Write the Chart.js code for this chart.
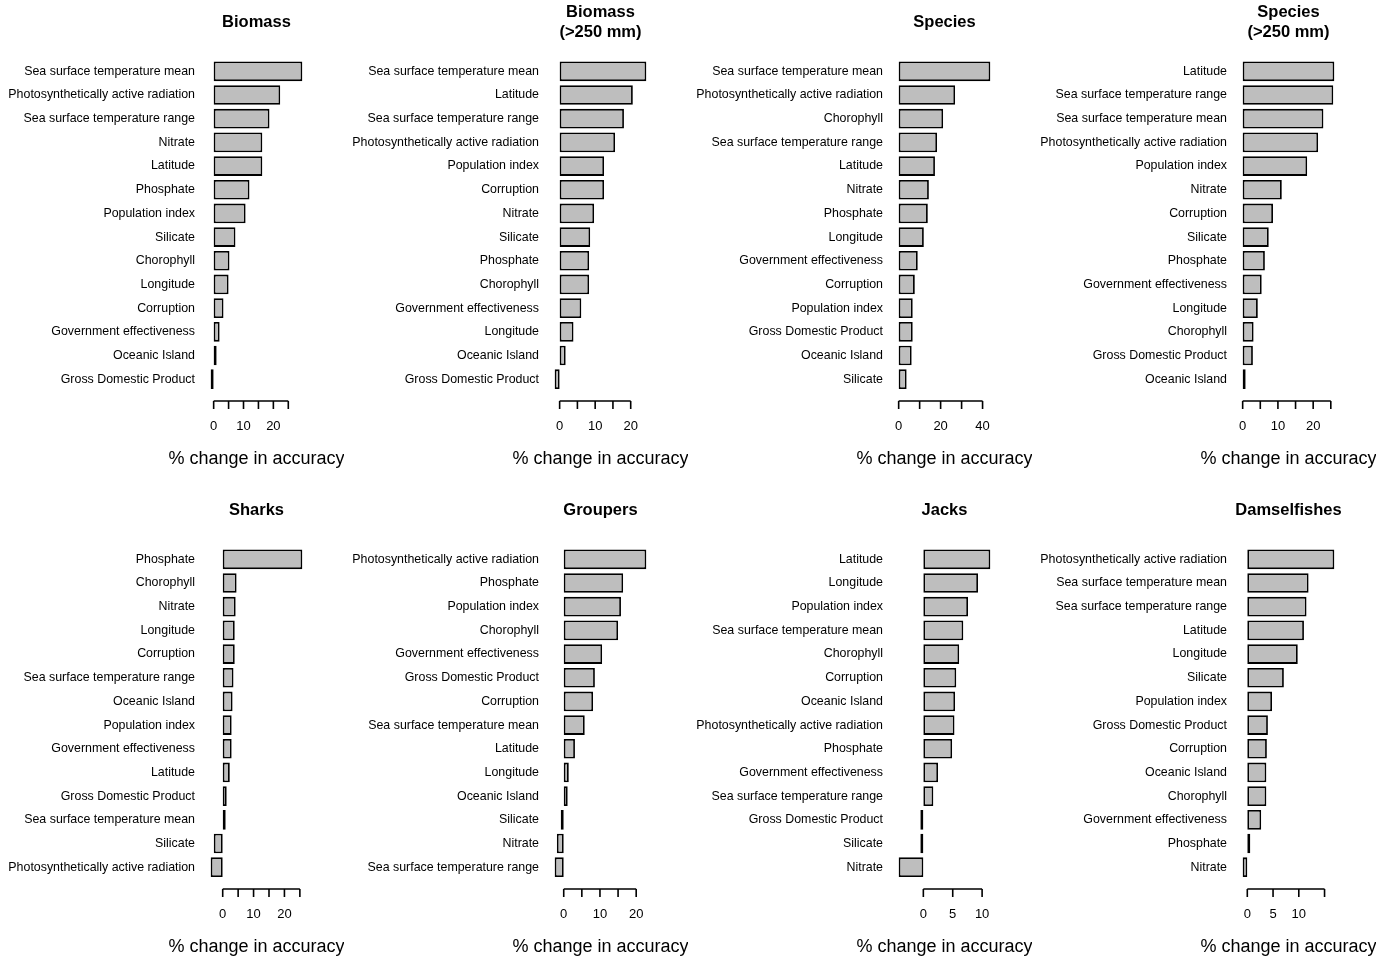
<!DOCTYPE html>
<html><head><meta charset="utf-8">
<script src="https://cdn.jsdelivr.net/npm/chart.js@4"></script>
<style>
body{margin:0;background:#fff;width:1395px;height:959px;position:relative;overflow:hidden}
.p{position:absolute;width:344px;height:488px}
canvas{width:344px;height:488px;display:block}
</style></head><body>
<script>
const titles = [["Biomass"],["Biomass","(>250 mm)"],["Species"],["Species","(>250 mm)"],["Sharks"],["Groupers"],["Jacks"],["Damselfishes"]];
const labels1 = ["Sea surface temperature mean","Photosynthetically active radiation","Sea surface temperature range","Nitrate","Latitude","Phosphate","Population index","Silicate","Chorophyll","Longitude","Corruption","Government effectiveness","Oceanic Island","Gross Domestic Product"];
const values1 = [29.7,22.3,18.7,16.3,16.3,12,10.7,7.3,5.3,5,3.3,2,0.4,-1];
const labels2 = ["Sea surface temperature mean","Latitude","Sea surface temperature range","Photosynthetically active radiation","Population index","Corruption","Nitrate","Silicate","Phosphate","Chorophyll","Government effectiveness","Longitude","Oceanic Island","Gross Domestic Product"];
const values2 = [24.4,20.6,18.1,15.6,12.5,12.5,9.7,8.6,8.3,8.3,6.1,3.9,1.7,-1.4];
const labels3 = ["Sea surface temperature mean","Photosynthetically active radiation","Chorophyll","Sea surface temperature range","Latitude","Nitrate","Phosphate","Longitude","Government effectiveness","Corruption","Population index","Gross Domestic Product","Oceanic Island","Silicate"];
const values3 = [43.7,26.9,21.2,18.3,17.3,14.4,13.9,12,9.1,7.7,6.7,6.7,6.2,3.8];
const labels4 = ["Latitude","Sea surface temperature range","Sea surface temperature mean","Photosynthetically active radiation","Population index","Nitrate","Corruption","Silicate","Phosphate","Government effectiveness","Longitude","Chorophyll","Gross Domestic Product","Oceanic Island"];
const values4 = [26,25.7,22.9,21.4,18.3,11.1,8.6,7.4,6.3,5.4,4.3,3.1,2.9,0.6];
const labels5 = ["Phosphate","Chorophyll","Nitrate","Longitude","Corruption","Sea surface temperature range","Oceanic Island","Population index","Government effectiveness","Latitude","Gross Domestic Product","Sea surface temperature mean","Silicate","Photosynthetically active radiation"];
const values5 = [25.8,4.5,4.2,3.9,3.9,3.5,3.2,2.9,2.9,2.3,1.3,0.3,-2.9,-3.9];
const labels6 = ["Photosynthetically active radiation","Phosphate","Population index","Chorophyll","Government effectiveness","Gross Domestic Product","Corruption","Sea surface temperature mean","Latitude","Longitude","Oceanic Island","Silicate","Nitrate","Sea surface temperature range"];
const values6 = [22.8,16.4,15.8,15,10.6,8.6,8.1,5.8,3.1,1.4,1.1,-0.3,-1.9,-2.5];
const labels7 = ["Latitude","Longitude","Population index","Sea surface temperature mean","Chorophyll","Corruption","Oceanic Island","Photosynthetically active radiation","Phosphate","Government effectiveness","Sea surface temperature range","Gross Domestic Product","Silicate","Nitrate"];
const values7 = [11.4,9.3,7.6,6.8,6.1,5.6,5.4,5.3,4.9,2.5,1.7,-0.3,-0.3,-4.2];
const labels8 = ["Photosynthetically active radiation","Sea surface temperature mean","Sea surface temperature range","Latitude","Longitude","Silicate","Population index","Gross Domestic Product","Corruption","Oceanic Island","Chorophyll","Government effectiveness","Phosphate","Nitrate"];
const values8 = [16.9,11.9,11.5,11,9.8,7.1,4.8,4,3.8,3.7,3.7,2.7,0.2,-0.9];
const ticks = [[0,5,10,15,20,25],[0,5,10,15,20],[0,10,20,30,40],[0,5,10,15,20,25],[0,5,10,15,20,25],[0,5,10,15,20],[0,5,10],[0,5,10,15]];
const tickLabels = [[0,10,20],[0,10,20],[0,20,40],[0,10,20],[0,10,20],[0,10,20],[0,5,10],[0,5,10]];
const xTitle = "% change in accuracy";

const allLabels=[labels1,labels2,labels3,labels4,labels5,labels6,labels7,labels8];
const allValues=[values1,values2,values3,values4,values5,values6,values7,values8];
const FONT="'Liberation Sans', Arial, Helvetica, sans-serif";

const deco = {
  id:'deco',
  afterDraw(chart, args, o){
    const ctx=chart.ctx, ca=chart.chartArea, x=chart.scales.x;
    const cx=(ca.left+ca.right)/2;
    ctx.save();
    ctx.fillStyle='#000';ctx.textAlign='center';ctx.textBaseline='middle';
    ctx.font="bold 16.5px "+FONT;
    const t=o.title;
    if(t.length===1) ctx.fillText(t[0],cx,22);
    else {ctx.fillText(t[0],cx,12);ctx.fillText(t[1],cx,32);}
    const y0=ca.bottom+10;
    ctx.strokeStyle='#000';ctx.lineWidth=1.6;
    ctx.beginPath();
    const tk=o.ticks;
    ctx.moveTo(x.getPixelForValue(tk[0]),y0);ctx.lineTo(x.getPixelForValue(tk[tk.length-1]),y0);
    tk.forEach(v=>{const px=x.getPixelForValue(v);ctx.moveTo(px,y0);ctx.lineTo(px,y0+8);});
    ctx.stroke();
    ctx.font="13px "+FONT;
    o.tickLabels.forEach(v=>ctx.fillText(String(v),x.getPixelForValue(v),y0+25));
    ctx.font="18px "+FONT;
    ctx.fillText(o.xTitle,cx,y0+58);
    ctx.restore();
  }
};

for(let i=0;i<8;i++){
  const d=document.createElement('div');d.className='p';
  d.style.left=(i%4)*344+'px';d.style.top=Math.floor(i/4)*488+'px';
  const c=document.createElement('canvas');c.width=344;c.height=488;
  d.appendChild(c);document.body.appendChild(d);
  const vals=allValues[i];
  const lo=Math.min(0,...vals), hi=Math.max(0,...vals), r=hi-lo;
  new Chart(c,{
    type:'bar',
    data:{labels:allLabels[i],datasets:[{data:vals,backgroundColor:'#bebebe',borderColor:'#000',borderWidth:1.8,borderSkipped:false,barPercentage:0.83,categoryPercentage:1,minBarLength:3}]},
    options:{
      indexAxis:'y',responsive:false,animation:false,devicePixelRatio:1,
      layout:{padding:{top:59.5,bottom:97,left:0,right:38}},
      plugins:{legend:{display:false},tooltip:{enabled:false},
        deco:{title:titles[i],ticks:ticks[i],tickLabels:tickLabels[i],xTitle:xTitle}},
      scales:{
        x:{display:false,min:lo-0.04*r,max:hi+0.04*r},
        y:{grid:{display:false},border:{display:false},
          ticks:{color:'#000',font:{family:FONT,size:12.4},padding:4,autoSkip:false},
          afterFit(s){s.width=207;}}
      }
    },
    plugins:[deco]
  });
}
</script>
</body></html>
